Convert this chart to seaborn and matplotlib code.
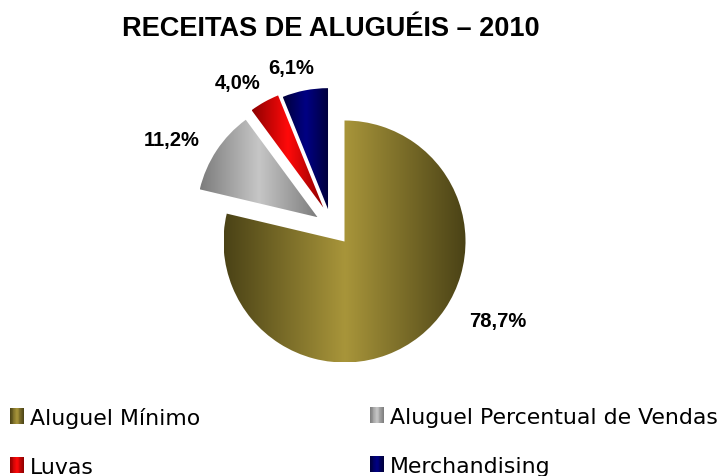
import numpy as np
import matplotlib
matplotlib.use("Agg")
import matplotlib.pyplot as plt
import seaborn as sns
from matplotlib.colors import LinearSegmentedColormap
from matplotlib.patches import Rectangle
from matplotlib.legend_handler import HandlerBase

# ---- data ----
categories = ["Aluguel Mínimo", "Aluguel Percentual de Vendas", "Luvas", "Merchandising"]
values = [78.7, 11.2, 4.0, 6.1]
value_labels = ["78,7%", "11,2%", "4,0%", "6,1%"]
title = "RECEITAS DE ALUGUÉIS – 2010"

# ---- style ----
edge_colors = ["#4a4216", "#7c7c7c", "#8e0000", "#00003a"]
center_colors = ["#a8953a", "#c6c6c6", "#ff0a0a", "#000084"]
explode_dist = [0.0, 0.30, 0.33, 0.30]
explode_dir = [0.0, 138.0, 122.0, 117.0]
label_x = [1.269, -1.426, -0.88, -0.44]
label_y = [-0.657, 0.847, 1.318, 1.442]

sns.set_theme(style="white")
plt.rcParams["font.family"] = ["DejaVu Sans"]
plt.rcParams["text.color"] = "black"

cmaps = [LinearSegmentedColormap.from_list(f"g{i}", [e, c, e])
         for i, (e, c) in enumerate(zip(edge_colors, center_colors))]

fig = plt.figure(figsize=(7.2, 4.77), dpi=100)
cx, cy, rpx = 344.5, 477 - 242.5, 121.0
half = 1.5 * rpx
ax = fig.add_axes([(cx - half) / 720, (cy - half) / 477, 2 * half / 720, 2 * half / 477])

wedges, _ = ax.pie(values, startangle=90, counterclock=False, radius=1.0,
                   colors=center_colors, wedgeprops=dict(linewidth=0))

grad = np.linspace(0, 1, 256).reshape(1, -1)
for w, d, a, cm in zip(wedges, explode_dist, explode_dir, cmaps):
    if d > 0:
        w.set_center((d * np.cos(np.radians(a)), d * np.sin(np.radians(a))))
    w.set_facecolor("none")
    ext = w.get_path().get_extents()
    im = ax.imshow(grad, cmap=cm, extent=(ext.x0, ext.x1, ext.y0, ext.y1),
                   aspect="auto", interpolation="bicubic", zorder=1)
    im.set_clip_path(w)

for lx, ly, t in zip(label_x, label_y, value_labels):
    ax.text(lx, ly, t, ha="center", va="center", fontsize=14.5,
            fontweight="bold", family="Liberation Sans", color="black")

ax.set_xlim(-1.5, 1.5)
ax.set_ylim(-1.5, 1.5)
ax.set_aspect("equal")
ax.axis("off")

fig.text(331 / 720, 1 - 29 / 477, title, ha="center", va="center",
         fontsize=19.5, fontweight="bold", family="Liberation Sans", color="black")


class GradHandler(HandlerBase):
    def __init__(self, cmap):
        super().__init__()
        self.cmap = cmap

    def create_artists(self, legend, orig_handle, xdescent, ydescent,
                       width, height, fontsize, trans):
        n = 16
        arts = []
        for i in range(n):
            arts.append(Rectangle((-xdescent + i * width / n, -ydescent),
                                  width / n + 0.02, height,
                                  facecolor=self.cmap((i + 0.5) / n),
                                  edgecolor="none", transform=trans))
        return arts


proxies = [Rectangle((0, 0), 1, 1) for _ in categories]
leg_kw = dict(loc="upper left", frameon=False, fontsize=15.8, borderpad=0,
              handlelength=0.62, handleheight=0.75, handletextpad=0.28,
              labelspacing=1.32, borderaxespad=0, labelcolor="black")
for col, xpix in zip([(0, 2), (1, 3)], [10, 370]):
    hs = [proxies[i] for i in col]
    fig.legend(hs, [categories[i] for i in col],
               bbox_to_anchor=(xpix / 720, (477 - 408) / 477),
               handler_map={proxies[i]: GradHandler(cmaps[i]) for i in col},
               **leg_kw)

fig.savefig("out.png", dpi=100)
